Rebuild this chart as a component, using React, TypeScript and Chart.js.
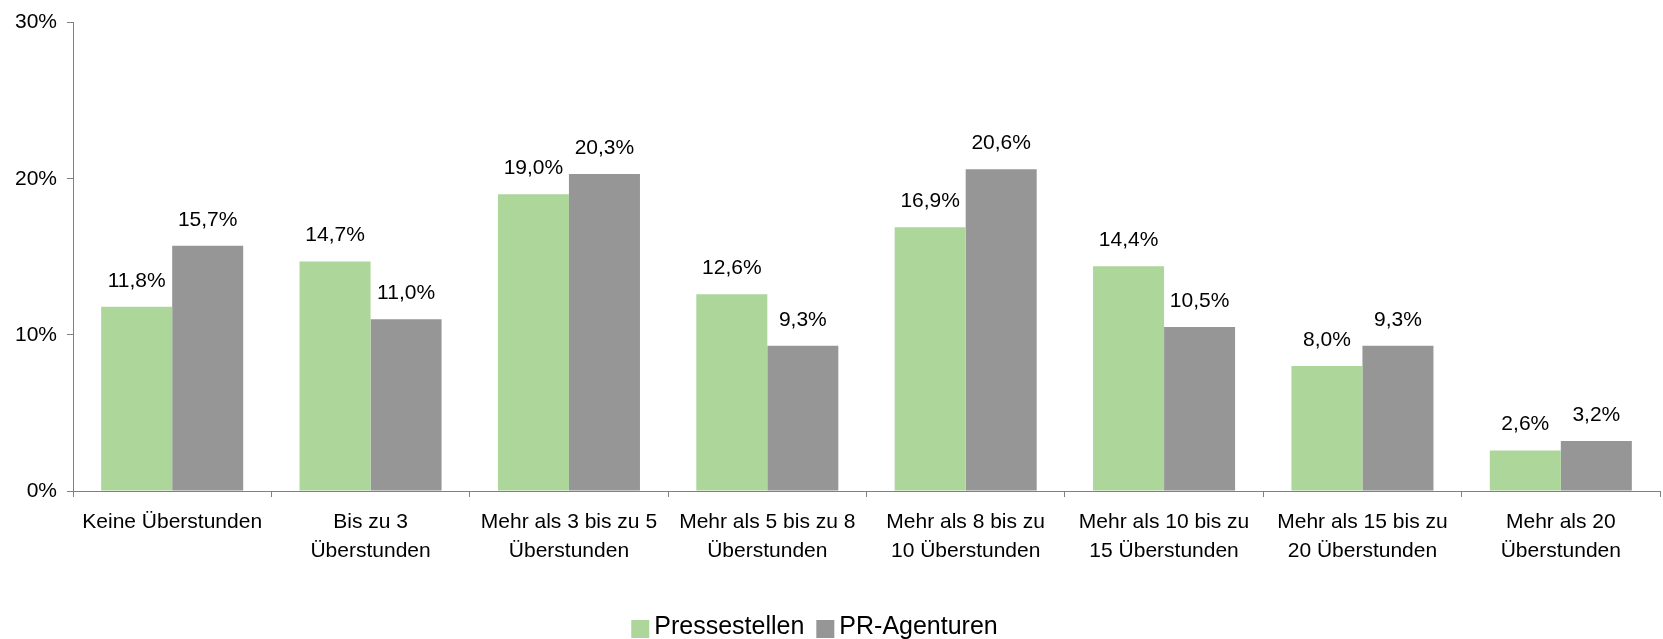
import React, { useEffect, useRef } from "react";
import { Chart, registerables } from "chart.js";

Chart.register(...registerables);

const categories: string[][] = [
  ["Keine Überstunden"],
  ["Bis zu 3", "Überstunden"],
  ["Mehr als 3 bis zu 5", "Überstunden"],
  ["Mehr als 5 bis zu 8", "Überstunden"],
  ["Mehr als 8 bis zu", "10 Überstunden"],
  ["Mehr als 10 bis zu", "15 Überstunden"],
  ["Mehr als 15 bis zu", "20 Überstunden"],
  ["Mehr als 20", "Überstunden"],
];

const seriesNames = ["Pressestellen", "PR-Agenturen"];
const pressestellen = [11.8, 14.7, 19.0, 12.6, 16.9, 14.4, 8.0, 2.6];
const prAgenturen = [15.7, 11.0, 20.3, 9.3, 20.6, 10.5, 9.3, 3.2];
const yTickValues = [0, 10, 20, 30];

const FONT = '"Liberation Sans", Arial, sans-serif';
const GREEN = "#ADD69B";
const GRAY = "#969696";
const AXIS = "#808080";

const valueLabels = {
  id: "valueLabels",
  afterDatasetsDraw(chart: any) {
    const ctx = chart.ctx;
    ctx.save();
    ctx.font = `21px ${FONT}`;
    ctx.fillStyle = "#000";
    ctx.textAlign = "center";
    ctx.textBaseline = "middle";
    chart.data.datasets.forEach((ds: any, i: number) => {
      const meta = chart.getDatasetMeta(i);
      meta.data.forEach((bar: any, j: number) => {
        const v = ds.data[j] as number;
        ctx.fillText(v.toFixed(1).replace(".", ",") + "%", bar.x, bar.y - 26);
      });
    });
    ctx.restore();
  },
};

// Legend drawn below the x axis, matching the reference's tight spacing
const bottomLegend = {
  id: "bottomLegend",
  afterDraw(chart: any) {
    const ctx = chart.ctx;
    ctx.save();
    ctx.font = `25px ${FONT}`;
    ctx.textBaseline = "middle";
    ctx.textAlign = "left";
    const box = 18;
    const gapBoxText = 5;
    const gapItems = 12;
    const cy = 628;
    const widths = chart.data.datasets.map(
      (ds: any) => box + gapBoxText + ctx.measureText(ds.label).width
    );
    const total =
      widths.reduce((a: number, b: number) => a + b, 0) +
      gapItems * (widths.length - 1);
    let x = 814.5 - total / 2;
    chart.data.datasets.forEach((ds: any, i: number) => {
      ctx.fillStyle = ds.backgroundColor;
      ctx.fillRect(x, cy - box / 2 + 1, box, box);
      ctx.fillStyle = "#000";
      ctx.fillText(ds.label, x + box + gapBoxText, cy - 1);
      x += widths[i] + gapItems;
    });
    ctx.restore();
  },
};

export default function App() {
  const ref = useRef<HTMLCanvasElement | null>(null);

  useEffect(() => {
    if (!ref.current) return;
    const chart = new Chart(ref.current, {
      type: "bar",
      data: {
        labels: categories,
        datasets: [
          {
            label: seriesNames[0],
            data: pressestellen,
            backgroundColor: GREEN,
            borderWidth: 0,
          },
          {
            label: seriesNames[1],
            data: prAgenturen,
            backgroundColor: GRAY,
            borderWidth: 0,
          },
        ],
      },
      options: {
        animation: false,
        responsive: true,
        maintainAspectRatio: false,
        layout: { padding: { top: 20, right: 3, left: 0, bottom: 0 } },
        datasets: {
          bar: { barPercentage: 1, categoryPercentage: 0.716 },
        },
        plugins: {
          legend: { display: false },
          tooltip: { enabled: false },
        },
        scales: {
          x: {
            grid: {
              offset: true,
              drawOnChartArea: false,
              drawTicks: true,
              tickLength: 6,
              color: AXIS,
            },
            border: { color: AXIS, width: 1 },
            ticks: {
              font: { family: FONT, size: 21, lineHeight: 1.38 },
              color: "#000",
              padding: 10.5,
              maxRotation: 0,
              autoSkip: false,
            },
            afterFit: (scale: any) => {
              scale.height = 148;
            },
          },
          y: {
            min: 0,
            max: 30,
            afterBuildTicks: (scale: any) => {
              scale.ticks = yTickValues.map((v) => ({ value: v }));
            },
            grid: {
              drawOnChartArea: false,
              drawTicks: true,
              tickLength: 6,
              color: AXIS,
            },
            border: { color: AXIS, width: 1 },
            ticks: {
              font: { family: FONT, size: 21 },
              color: "#000",
              padding: 10,
              callback: (v: any) => `${v}%`,
            },
            afterFit: (scale: any) => {
              scale.width = 73;
            },
          },
        },
      },
      plugins: [valueLabels, bottomLegend],
    });
    return () => chart.destroy();
  }, []);

  return (
    <div
      style={{
        position: "fixed",
        left: 0,
        top: 0,
        width: 1663,
        height: 639,
        overflow: "hidden",
        background: "#fff",
      }}
    >
      <div style={{ position: "relative", width: 1663, height: 639 }}>
        <canvas ref={ref} />
      </div>
    </div>
  );
}
